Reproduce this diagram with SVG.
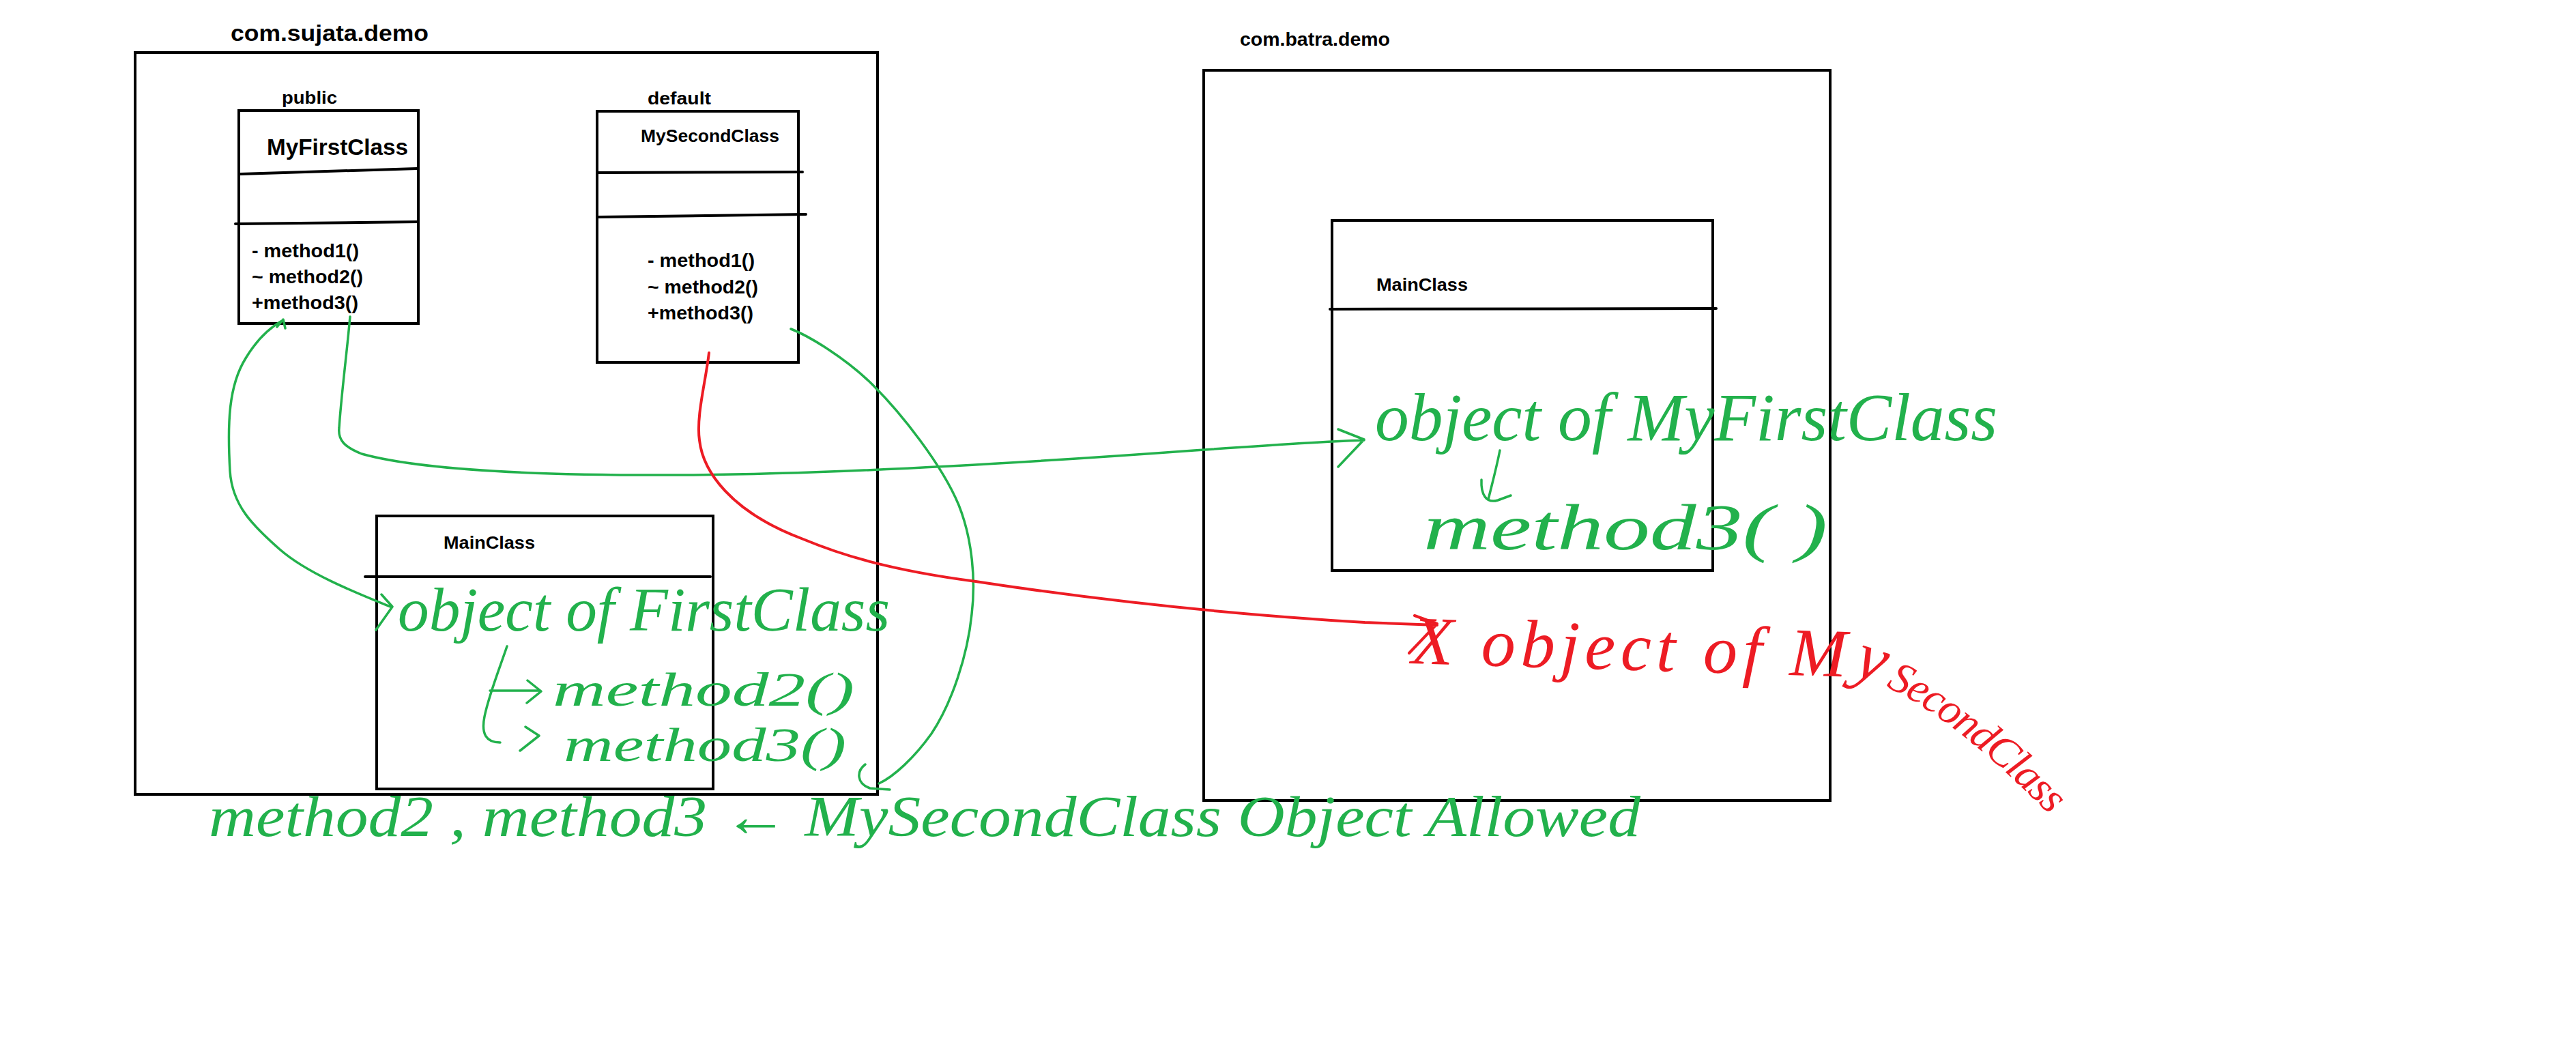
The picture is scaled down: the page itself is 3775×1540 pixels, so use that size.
<svg xmlns="http://www.w3.org/2000/svg" width="3775" height="1540" viewBox="0 0 3775 1540">
<style>
.pkg{fill:none;stroke:#000;stroke-width:4}
.box{fill:none;stroke:#000;stroke-width:4}
.div{stroke:#000;stroke-width:4;stroke-linecap:round}
.lbl{font-family:"Liberation Sans",Arial,sans-serif;font-weight:bold;fill:#000}
.g{fill:none;stroke:#22b14c;stroke-width:3.5;stroke-linecap:round;stroke-linejoin:round}
.r{fill:none;stroke:#ed1c24;stroke-width:4;stroke-linecap:round;stroke-linejoin:round}
.hw{font-family:"Liberation Serif","Times New Roman",serif;font-style:italic;fill:#22b14c}
.hwr{font-family:"Liberation Serif","Times New Roman",serif;font-style:italic;fill:#ed1c24}
</style>
<defs>
<path id="redTextPath" d="M2068,972 L2722,992 C2800,1010 2900,1090 2995,1185"/>
</defs>
<rect width="3775" height="1540" fill="#fff"/>

<g id="pkg-sujata">
<rect class="pkg" x="198" y="77" width="1088" height="1087"/>
<text class="lbl" x="338" y="60" font-size="33" textLength="290" lengthAdjust="spacingAndGlyphs">com.sujata.demo</text>
</g>

<g id="MyFirstClass">
<text class="lbl" x="413" y="152" font-size="26" textLength="81" lengthAdjust="spacingAndGlyphs">public</text>
<rect class="box" x="350" y="162" width="263" height="312"/>
<text class="lbl" x="391" y="227" font-size="33" textLength="207" lengthAdjust="spacingAndGlyphs">MyFirstClass</text>
<line class="div" x1="352" y1="255" x2="611" y2="247"/>
<line class="div" x1="345" y1="328" x2="613" y2="325"/>
<text class="lbl" x="369" y="377" font-size="27" textLength="157" lengthAdjust="spacingAndGlyphs">- method1()</text>
<text class="lbl" x="369" y="415" font-size="27" textLength="163" lengthAdjust="spacingAndGlyphs">~ method2()</text>
<text class="lbl" x="369" y="453" font-size="27" textLength="156" lengthAdjust="spacingAndGlyphs">+method3()</text>
</g>

<g id="MySecondClass">
<text class="lbl" x="949" y="153" font-size="26" textLength="93" lengthAdjust="spacingAndGlyphs">default</text>
<rect class="box" x="875" y="163" width="295" height="368"/>
<text class="lbl" x="939" y="208" font-size="26" textLength="203" lengthAdjust="spacingAndGlyphs">MySecondClass</text>
<line class="div" x1="877" y1="253" x2="1176" y2="252"/>
<line class="div" x1="877" y1="318" x2="1181" y2="314"/>
<text class="lbl" x="949" y="391" font-size="27" textLength="157" lengthAdjust="spacingAndGlyphs">- method1()</text>
<text class="lbl" x="949" y="430" font-size="27" textLength="162" lengthAdjust="spacingAndGlyphs">~ method2()</text>
<text class="lbl" x="949" y="468" font-size="27" textLength="155" lengthAdjust="spacingAndGlyphs">+method3()</text>
</g>

<g id="MainClass-sujata">
<rect class="box" x="552" y="756" width="493" height="400"/>
<text class="lbl" x="650" y="804" font-size="26" textLength="134" lengthAdjust="spacingAndGlyphs">MainClass</text>
<line class="div" x1="535" y1="845" x2="1041" y2="845"/>
<text class="hw" x="583" y="924" font-size="92" textLength="721" lengthAdjust="spacingAndGlyphs">object of FirstClass</text>
<text class="hw" x="810" y="1034" font-size="70" textLength="442" lengthAdjust="spacingAndGlyphs">method2()</text>
<text class="hw" x="826" y="1115" font-size="70" textLength="414" lengthAdjust="spacingAndGlyphs">method3()</text>
</g>

<g id="pkg-batra">
<rect class="pkg" x="1764" y="103" width="918" height="1070"/>
<text class="lbl" x="1817" y="67" font-size="27" textLength="220" lengthAdjust="spacingAndGlyphs">com.batra.demo</text>
</g>

<g id="MainClass-batra">
<rect class="box" x="1952" y="323" width="558" height="513"/>
<text class="lbl" x="2017" y="426" font-size="26" textLength="134" lengthAdjust="spacingAndGlyphs">MainClass</text>
<line class="div" x1="1949" y1="453" x2="2515" y2="452"/>
<text class="hw" x="2015" y="645" font-size="100" textLength="912" lengthAdjust="spacingAndGlyphs">object of MyFirstClass</text>
<text class="hw" x="2086" y="805" font-size="95" textLength="592" lengthAdjust="spacingAndGlyphs">method3( )</text>
</g>

<g id="note-not-allowed">
<text class="hwr"><textPath href="#redTextPath"><tspan font-size="100" letter-spacing="8">X object of My</tspan><tspan font-size="64" letter-spacing="-2">SecondClass</tspan></textPath></text>
</g>

<g id="note-allowed">
<text class="hw" x="306" y="1225" font-size="85" textLength="2098" lengthAdjust="spacingAndGlyphs">method2 , method3 ← MySecondClass Object Allowed</text>
</g>

<g id="connectors">
<path class="g" d="M415,469 C395,480 375,500 360,525 C335,565 333,620 337,690 C340,740 370,770 410,805 C450,840 520,868 572,889 M559,871 L575,889 L551,923 M406,479 L415,468 L418,481"/>
<path class="g" d="M513,464 C508,520 500,580 497,627 C495,645 505,655 530,665 C620,690 800,697 1000,696 C1200,695 1450,682 1750,660 C1850,653 1950,646 1999,645 M1961,629 L1999,644 L1961,684"/>
<path class="g" d="M1159,482 C1185,492 1240,525 1280,565 C1320,605 1380,680 1405,740 C1425,790 1430,850 1424,900 C1418,960 1395,1030 1365,1075 C1340,1110 1310,1138 1288,1148 M1268,1120 C1255,1130 1255,1148 1275,1155 L1304,1157"/>
<path class="r" d="M1039,517 C1034,560 1020,610 1025,645 C1030,690 1070,750 1177,790 C1230,812 1300,835 1430,852 C1600,878 1800,900 2000,912 L2106,916 M2073,902 L2106,914 L2065,957"/>
<path class="g" d="M2198,660 C2192,690 2185,715 2181,732 M2171,703 C2170,725 2178,738 2195,733 L2214,726"/>
<path class="g" d="M743,947 C730,985 716,1020 710,1050 C705,1075 712,1088 733,1088 M718,1012 L791,1012 M773,997 L793,1013 L772,1030 M770,1065 L790,1078 L762,1100"/>
</g>
</svg>
